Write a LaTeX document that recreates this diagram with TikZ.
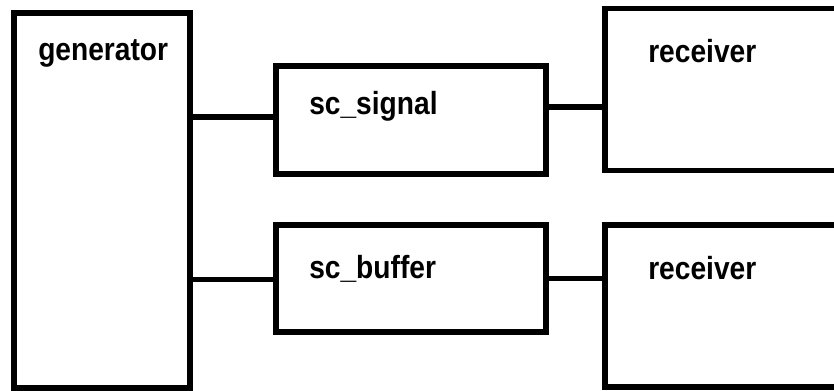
\documentclass[tikz,border=0pt]{standalone}
\usepackage{fontspec}
\setmainfont[FakeStretch=0.88]{Liberation Sans}
\usetikzlibrary{calc}
\tikzset{
  block/.style={draw, rectangle, line width=4.3pt, inner sep=0pt, outer sep=0pt, anchor=north west},
  blocktext/.style={anchor=base west, inner sep=0pt, font=\fontsize{24}{28}\selectfont\bfseries},
  wire/.style={line width=4.3pt}
}
% block: name, corner x, corner y, width, height, text, text offset x, y
\newcommand{\block}[8]{
  \node[block, minimum width=#4*0.75pt, minimum height=#5*0.75pt] (#1) at (#2,#3) {};
  \node[blocktext] (#1-text) at ($(#1.north west)+(#7,#8)$) {#6};
}

\begin{document}
\begin{tikzpicture}[x=0.75pt, y=-0.75pt]
\useasboundingbox (0,0) rectangle (834,391);
\block{gen}{14}{13}{176}{375}{generator}{24}{48}
\block{sig}{276}{66}{270}{108}{sc\_signal}{33}{49}
\block{buf}{276}{225}{270}{107}{sc\_buffer}{33}{53}
\block{rcvA}{605}{8.5}{240}{162}{receiver}{43}{54.5}
\block{rcvB}{605}{225}{240}{162}{receiver}{43}{55}
% wire ends on the box sides
\coordinate (sigin) at ($(sig.north west)!0.47!(sig.south west)$);
\coordinate (sigout) at ($(sig.north east)!0.38!(sig.south east)$);
\coordinate (bufin) at ($(buf.north west)!0.51!(buf.south west)$);
\draw[wire] (gen.east |- sigin) -- (sigin);
\draw[wire] (gen.east |- bufin) -- (bufin);
\draw[wire] (sigout) -- (rcvA.west |- sigout);
\draw[wire] (buf.east) -- (rcvB.west |- buf.east);
\end{tikzpicture}
\end{document}
